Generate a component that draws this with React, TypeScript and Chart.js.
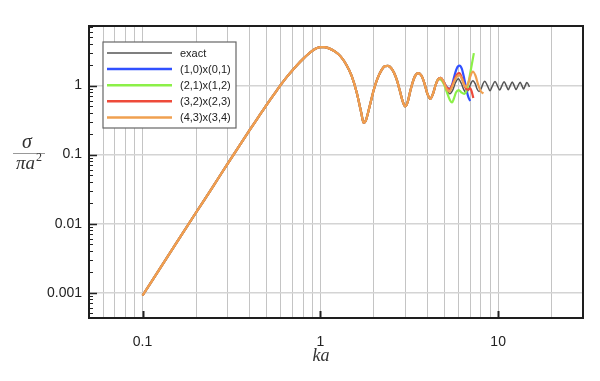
import React, { useEffect, useRef } from "react";
import { Chart, registerables } from "chart.js";

Chart.register(...registerables);

// ---------- data ----------
// part shared by all curves (they coincide up to ka ≈ 4.6)
const kaCommon = [
  0.1, 0.15, 0.2, 0.25, 0.3, 0.35, 0.4, 0.45, 0.5, 0.55, 0.6, 0.65, 0.7, 0.75, 0.8,
  0.85, 0.9, 0.95, 1.0, 1.05, 1.1, 1.2, 1.3, 1.4, 1.5, 1.6, 1.7, 1.75, 1.8, 1.9, 2.0,
  2.1, 2.2, 2.3, 2.4, 2.5, 2.6, 2.7, 2.8, 2.9, 3.0, 3.1, 3.2, 3.3, 3.4, 3.55, 3.7,
  3.85, 4.0, 4.15, 4.3, 4.45, 4.6,
];
const sigmaCommon = [
  0.00091, 0.0046, 0.0145, 0.035, 0.073, 0.134, 0.226, 0.355, 0.531, 0.753, 1.03, 1.35,
  1.69, 2.06, 2.44, 2.82, 3.18, 3.47, 3.61, 3.62, 3.52, 3.15, 2.65, 2.0, 1.38, 0.8, 0.4,
  0.29, 0.31, 0.52, 0.88, 1.28, 1.65, 1.9, 1.93, 1.8, 1.52, 1.18, 0.84, 0.6, 0.5,
  0.58, 0.82, 1.1, 1.36, 1.52, 1.4, 1.08, 0.76, 0.64, 0.76, 1.02, 1.24,
];

const kaExactTail = [
  4.75, 4.95, 5.15, 5.35, 5.55, 5.75, 5.97, 6.2, 6.4, 6.6, 6.85, 7.0, 7.2, 7.45, 7.6,
  7.8, 8.05, 8.2, 8.4, 8.7, 9.0, 9.3, 9.6, 9.9, 10.2, 10.5, 10.8, 11.1, 11.4, 11.7,
  12.0, 12.3, 12.6, 12.95, 13.3, 13.6, 13.9, 14.2, 14.5, 15.0,
];
const sigmaExactTail = [
  1.29, 1.12, 0.86, 0.76, 0.86, 1.1, 1.26, 1.08, 0.88, 0.79, 0.9, 1.05, 1.18, 1.05,
  0.9, 0.82, 0.92, 1.05, 1.16, 1.0, 0.84, 1.0, 1.15, 1.0, 0.86, 1.0, 1.14, 1.0, 0.87,
  1.0, 1.13, 1.0, 0.88, 1.0, 1.12, 1.0, 0.89, 1.0, 1.11, 0.96,
];

const kaBlueTail = [4.75, 4.95, 5.15, 5.33, 5.5, 5.7, 5.9, 6.06, 6.25, 6.45, 6.65, 6.8, 6.96];
const sigmaBlueTail = [1.3, 1.12, 0.95, 0.9, 1.02, 1.45, 1.85, 1.95, 1.75, 1.25, 0.85, 0.68, 0.6];

const kaGreenTail = [4.75, 4.95, 5.15, 5.35, 5.5, 5.65, 5.8, 6.0, 6.2, 6.45, 6.65, 6.85, 7.05, 7.3];
const sigmaGreenTail = [1.22, 1.05, 0.8, 0.62, 0.57, 0.66, 0.8, 0.86, 0.8, 0.76, 0.85, 1.2, 1.8, 2.95];

const kaRedTail = [4.75, 4.95, 5.15, 5.33, 5.5, 5.7, 5.9, 6.05, 6.25, 6.45, 6.6, 6.8, 6.95, 7.1, 7.25];
const sigmaRedTail = [1.29, 1.12, 0.93, 0.9, 1.0, 1.25, 1.47, 1.52, 1.3, 1.02, 0.9, 0.87, 0.92, 0.82, 0.66];

const kaOrangeTail = [4.75, 4.95, 5.15, 5.33, 5.5, 5.7, 5.9, 6.05, 6.25, 6.45, 6.6, 6.8, 7.0, 7.2, 7.45, 7.7, 8.0, 8.27];
const sigmaOrangeTail = [1.29, 1.12, 0.88, 0.82, 0.95, 1.2, 1.38, 1.42, 1.25, 1.02, 0.95, 1.1, 1.4, 1.6, 1.4, 1.05, 0.82, 0.77];

const seriesNames = ["exact", "(1,0)x(0,1)", "(2,1)x(1,2)", "(3,2)x(2,3)", "(4,3)x(3,4)"];
const seriesColors = ["#555555", "#3050ff", "#8cf048", "#ee4a3a", "#f0a050"];
const seriesWidths = [1.5, 2.2, 2.2, 2.2, 2.2];

const xTickValues = [
  0.05, 0.06, 0.07, 0.08, 0.09, 0.1, 0.2, 0.3, 0.4, 0.5, 0.6, 0.7, 0.8, 0.9, 1, 2, 3, 4,
  5, 6, 7, 8, 9, 10, 20, 30,
];
const xLabelValues = [0.1, 1, 10];
const xLabelTexts = ["0.1", "1", "10"];
const yTickValues = [0.001, 0.01, 0.1, 1];
const yTickLabels = ["0.001", "0.01", "0.1", "1"];
const yMinorDecades = [0.0001, 0.001, 0.01, 0.1, 1];

const X_MIN = 0.05;
const X_MAX = 30;
const Y_MIN = 0.00043;
const Y_MAX = 7.3;

function toPoints(ka: number[], s: number[]) {
  return ka.map((x, i) => ({ x, y: s[i] }));
}

const SANS = "'Liberation Sans', Arial, Helvetica, sans-serif";
const SERIF = "'Liberation Serif', 'Times New Roman', serif";

const extrasPlugin = {
  id: "extras",
  afterDraw(chart: any) {
    const { ctx, chartArea: a, scales } = chart;
    const x = scales.x;
    const y = scales.y;
    ctx.save();
    // minor/major ticks on the left axis (pointing inward)
    ctx.strokeStyle = "#222";
    for (const d of yMinorDecades) {
      for (let m = 1; m <= 9; m++) {
        const v = m * d;
        if (v < Y_MIN || v > Y_MAX) continue;
        const py = Math.round(y.getPixelForValue(v)) + 0.5;
        ctx.lineWidth = m === 1 ? 1.5 : 1;
        const len = m === 1 ? 8 : 4;
        ctx.beginPath();
        ctx.moveTo(a.left, py);
        ctx.lineTo(a.left + len, py);
        ctx.stroke();
      }
    }
    // major ticks on the bottom axis
    for (const v of xLabelValues) {
      const px = Math.round(x.getPixelForValue(v)) + 0.5;
      ctx.lineWidth = 2;
      ctx.beginPath();
      ctx.moveTo(px, a.bottom);
      ctx.lineTo(px, a.bottom - 7);
      ctx.stroke();
    }
    // frame
    ctx.lineWidth = 2;
    ctx.strokeStyle = "#1e1e1e";
    ctx.strokeRect(a.left, a.top, a.right - a.left, a.bottom - a.top);

    // legend
    const lx = 103, ly = 42, lw = 133, lh = 86;
    ctx.fillStyle = "#ffffff";
    ctx.fillRect(lx, ly, lw, lh);
    ctx.strokeStyle = "#666";
    ctx.lineWidth = 1.2;
    ctx.strokeRect(lx, ly, lw, lh);
    ctx.font = `11px ${SANS}`;
    ctx.textBaseline = "middle";
    ctx.textAlign = "left";
    chart.data.datasets.forEach((ds: any, i: number) => {
      const ry = 53 + i * 16.1;
      ctx.strokeStyle = ds.borderColor;
      ctx.lineWidth = i === 0 ? 1.5 : 2.5;
      ctx.beginPath();
      ctx.moveTo(107, ry);
      ctx.lineTo(172, ry);
      ctx.stroke();
      ctx.fillStyle = "#222";
      ctx.fillText(ds.label, 180, ry + 0.5);
    });

    // y axis title: sigma / (pi a^2)
    ctx.fillStyle = "#333";
    ctx.textBaseline = "alphabetic";
    ctx.textAlign = "center";
    ctx.font = `italic 20px ${SERIF}`;
    ctx.fillText("σ", 27, 148);
    ctx.strokeStyle = "#999";
    ctx.lineWidth = 1;
    ctx.beginPath();
    ctx.moveTo(13, 153.5);
    ctx.lineTo(45, 153.5);
    ctx.stroke();
    ctx.textAlign = "left";
    ctx.font = `italic 19px ${SERIF}`;
    const w1 = ctx.measureText("πa").width;
    ctx.font = `12px ${SERIF}`;
    const w2 = ctx.measureText("2").width;
    const sx = 29 - (w1 + w2 + 1) / 2;
    ctx.font = `italic 19px ${SERIF}`;
    ctx.fillText("πa", sx, 169);
    ctx.font = `12px ${SERIF}`;
    ctx.fillText("2", sx + w1 + 1, 161);

    // x axis title
    ctx.textAlign = "center";
    ctx.font = `italic 18px ${SERIF}`;
    ctx.fillText("ka", 321, 361);
    ctx.restore();
  },
};

export default function App() {
  const ref = useRef<HTMLCanvasElement | null>(null);
  useEffect(() => {
    const canvas = ref.current;
    if (!canvas) return;
    const datasetsData = [
      toPoints([...kaCommon, ...kaExactTail], [...sigmaCommon, ...sigmaExactTail]),
      toPoints([...kaCommon, ...kaBlueTail], [...sigmaCommon, ...sigmaBlueTail]),
      toPoints([...kaCommon, ...kaGreenTail], [...sigmaCommon, ...sigmaGreenTail]),
      toPoints([...kaCommon, ...kaRedTail], [...sigmaCommon, ...sigmaRedTail]),
      toPoints([...kaCommon, ...kaOrangeTail], [...sigmaCommon, ...sigmaOrangeTail]),
    ];
    const chart = new Chart(canvas, {
      type: "line",
      data: {
        datasets: datasetsData.map((d, i) => ({
          label: seriesNames[i],
          data: d,
          borderColor: seriesColors[i],
          backgroundColor: seriesColors[i],
          borderWidth: seriesWidths[i],
          pointRadius: 0,
          fill: false,
          cubicInterpolationMode: "monotone",
          order: 5 - i,
        })),
      },
      options: {
        responsive: false,
        animation: false,
        devicePixelRatio: 1,
        layout: { padding: { left: 0, top: 26, right: 17, bottom: 0 } },
        plugins: { legend: { display: false }, tooltip: { enabled: false } },
        scales: {
          x: {
            type: "logarithmic",
            min: X_MIN,
            max: X_MAX,
            afterBuildTicks: (scale: any) => {
              scale.ticks = xTickValues.map((v) => ({ value: v }));
            },
            afterFit: (scale: any) => {
              scale.height = 63;
            },
            grid: { color: "#c4c4c4", lineWidth: 1, drawTicks: false },
            border: { display: false },
            ticks: {
              autoSkip: false,
              maxRotation: 0,
              padding: 16,
              color: "#222",
              font: { family: SANS, size: 14 },
              callback: (value: any) => {
                const i = xLabelValues.indexOf(value);
                return i >= 0 ? xLabelTexts[i] : "";
              },
            },
          },
          y: {
            type: "logarithmic",
            min: Y_MIN,
            max: Y_MAX,
            afterBuildTicks: (scale: any) => {
              scale.ticks = yTickValues.map((v) => ({ value: v }));
            },
            afterFit: (scale: any) => {
              scale.width = 89;
            },
            grid: { color: "#d4d4d4", lineWidth: 1.6, drawTicks: false },
            border: { display: false },
            ticks: {
              autoSkip: false,
              padding: 7,
              color: "#222",
              font: { family: SANS, size: 14 },
              callback: (value: any) => {
                const i = yTickValues.indexOf(value);
                return i >= 0 ? yTickLabels[i] : "";
              },
            },
          },
        },
      },
      plugins: [extrasPlugin],
    } as any);
    return () => chart.destroy();
  }, []);
  return (
    <div style={{ position: "fixed", left: 0, top: 0, width: 600, height: 381, background: "#fff" }}>
      <canvas ref={ref} width={600} height={381} style={{ display: "block", width: 600, height: 381 }} />
    </div>
  );
}
